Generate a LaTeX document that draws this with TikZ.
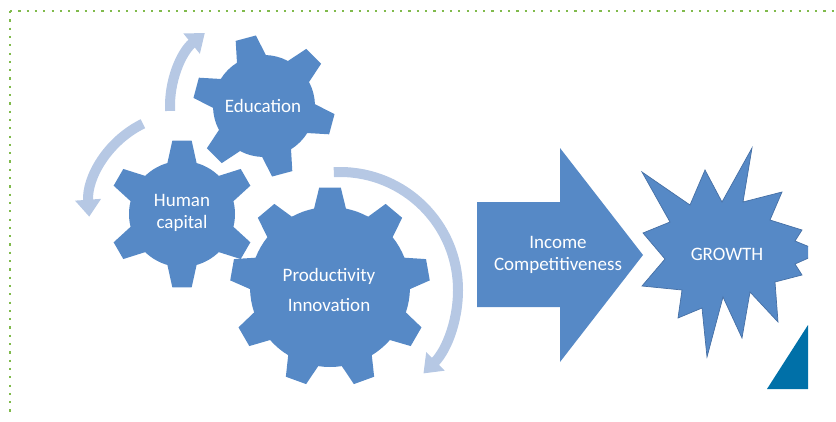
\documentclass[tikz,border=0pt]{standalone}
\usepackage{fontspec}
\setmainfont{Carlito}
\usetikzlibrary{arrows.meta}
\definecolor{gearblue}{RGB}{86,137,198}
\definecolor{gearline}{RGB}{70,112,165}
\definecolor{arcblue}{RGB}{182,200,228}
\definecolor{darktri}{RGB}{0,112,168}
\definecolor{dotgreen}{RGB}{128,186,76}
\tikzset{
  gearfill/.style={fill=gearblue},
  arcarrow/.style={draw=arcblue, line width=10pt,
     -{Triangle[width=25pt,length=17pt]}},
  lbl/.style={text=white, font=\fontsize{19}{21.5}\selectfont, align=center, inner sep=0pt},
  dotline/.style={draw=dotgreen, line width=2.2pt, dash pattern=on 2.2pt off 6.1pt}
}
% #1 cx, #2 cy, #3 teeth, #4 root radius, #5 tip radius, #6 half base angle, #7 half tip angle, #8 offset angle
\newcommand\mygear[8]{%
  \fill[gearfill, shift={(#1,#2)}] ({#8-#6}:#4)
    \foreach \k [evaluate=\k as \a using {#8+(\k-1)*360/#3}] in {1,...,#3}{
      -- ({\a-#7}:#5) -- ({\a+#7}:#5) -- ({\a+#6}:#4)
      arc[start angle={\a+#6}, end angle={\a+360/#3-#6}, radius=#4]
    } -- cycle;
}
\begin{document}
\begin{tikzpicture}[x=1pt,y=-1pt]
\useasboundingbox (0,0) rectangle (836,421);
% dotted frame
\draw[dotline] (10,11) -- (836,11);
\draw[dotline] (10,11) -- (10,413);
\begin{scope}
\clip (0,0) rectangle (808,389);
% circular arrows
\draw[arcarrow, shift={(264,106)}] (177:94) arc[start angle=177, end angle=231, radius=94];
\draw[arcarrow, shift={(185,210)}] (244:96) arc[start angle=244, end angle=176, radius=96];
\draw[arcarrow, shift={(340,290)}] (-93:118) arc[start angle=-93, end angle=45, radius=118];
% gears
\mygear{264}{106}{6}{51}{71}{17}{8.5}{15}
\mygear{182}{214}{6}{53}{74}{16}{7.5}{30}
\mygear{330}{287}{9}{80}{100}{11.5}{6.2}{30}
% big arrow
\fill[gearblue] (477,202) -- (560,202) -- (560,148) -- (643,255) -- (560,362) -- (560,307) -- (477,307) -- cycle;
% star
\filldraw[fill=gearblue, draw=gearline, line width=0.7pt]
  (642,172) -- (690,205) -- (705,170) -- (722,202) -- (752,148) -- (743,202)
  -- (782,192) -- (770,220) -- (802,230) -- (795,241) -- (822,252) -- (795,264)
  -- (802,275) -- (775,282) -- (778,322) -- (750,292) -- (742,338) -- (723,297)
  -- (707,357) -- (702,308) -- (678,318) -- (682,290) -- (642,286) -- (665,259)
  -- (643,233) -- (670,222) -- cycle;
% dark triangle
\fill[darktri] (767,389) -- (808,325) -- (808,389) -- cycle;
\end{scope}
% labels
\node[lbl] (edu) at (263,106) {Education};
\node[lbl] (hum) at (182,213) {Human\\capital};
\node[lbl] (prod) at (329,290) {Productivity\\[8pt]Innovation};
\node[lbl] (inc) at (558,255) {Income\\[1pt]Competitiveness};
\node[lbl] (gro) at (727,254) {GROWTH};
\end{tikzpicture}
\end{document}
